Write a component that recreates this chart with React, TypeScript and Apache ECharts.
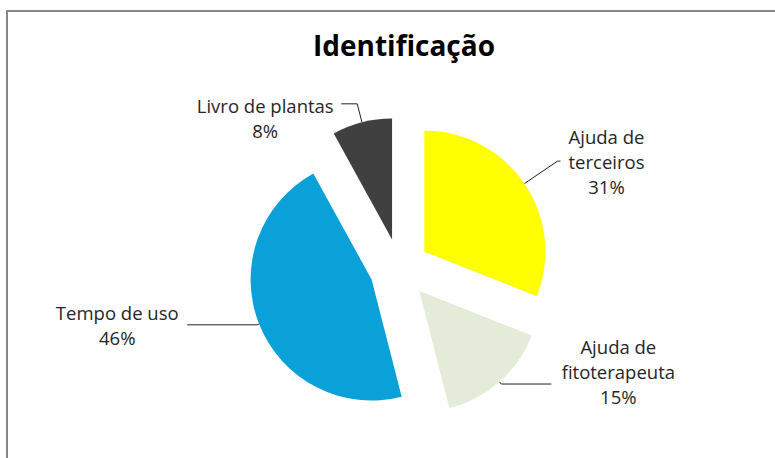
import React, { useEffect, useRef } from "react";
import * as echarts from "echarts";

const titleText = "Identificação";
const categories = ["Ajuda de\nterceiros", "Ajuda de\nfitoterapeuta", "Tempo de uso", "Livro de plantas"];
const percents = [31, 15, 46, 8];
const colors = ["#FFFF00", "#E4EBD9", "#0AA1D9", "#404040"];

const FONT = "'Open Sans', 'Noto Sans', sans-serif";

// per-slice label tuning (layout only)
const lineLen = [40, 3, 2, 19];
const lineLen2 = [3, 50, 70, 16];
const boxWidth = [82, 124, 130, 142];
const padTop = [0, 0, 0, 28];
const padBottom = [0, 26, 0, 0];

export default function App() {
  const ref = useRef<HTMLDivElement>(null);
  useEffect(() => {
    if (!ref.current) return;
    const chart = echarts.init(ref.current, undefined, { renderer: "svg" });
    const data = categories.map((name, i) => {
      const richKey = "t" + i;
      return {
        name,
        value: percents[i],
        selected: true,
        itemStyle: { color: colors[i] },
        label: {
          formatter: (p: any) => {
            const lines = String(p.name).split("\n").concat([p.value + "%"]);
            let s = lines.map((l: string) => `{${richKey}|${l}}`).join("\n");
            if (padTop[i]) s = `{pt${i}| }\n` + s;
            if (padBottom[i]) s = s + `\n{pb${i}| }`;
            return s;
          },
        },
        labelLine: { length: lineLen[i], length2: lineLen2[i] },
      };
    });
    const rich: any = {};
    categories.forEach((_, i) => {
      rich["t" + i] = {
        fontFamily: FONT,
        fontSize: 18.5,
        color: "#262626",
        lineHeight: 25,
        width: boxWidth[i],
        align: "center",
      };
      rich["pt" + i] = { fontSize: 1, lineHeight: padTop[i] || 1 };
      rich["pb" + i] = { fontSize: 1, lineHeight: padBottom[i] || 1 };
    });
    chart.setOption({
      animation: false,
      backgroundColor: "#ffffff",
      title: {
        text: titleText,
        left: 399,
        textAlign: "center",
        top: 26,
        textStyle: { fontFamily: FONT, fontSize: 28, fontWeight: "bold", color: "#000000" },
      },
      graphic: [
        {
          type: "rect",
          shape: { x: 7, y: 11, width: 830, height: 520 },
          style: { fill: "none", stroke: "#878787", lineWidth: 2 },
          silent: true,
          z: -10,
        },
      ],
      series: [
        {
          type: "pie",
          center: [399.5, 268.5],
          radius: 121,
          startAngle: 90,
          clockwise: true,
          selectedMode: "multiple",
          selectedOffset: 30,
          avoidLabelOverlap: false,
          emphasis: { disabled: true },
          select: { itemStyle: { borderWidth: 0 } },
          itemStyle: { borderWidth: 0 },
          label: {
            show: true,
            position: "outside",
            distanceToLabelLine: 5,
            rich,
          },
          labelLine: {
            show: true,
            smooth: false,
            lineStyle: { color: "#222222", width: 1 },
          },
          data,
        },
      ],
    });
    return () => chart.dispose();
  }, []);
  return (
    <div
      ref={ref}
      style={{ position: "absolute", left: 0, top: 0, width: 775, height: 458, background: "#fff" }}
    />
  );
}
